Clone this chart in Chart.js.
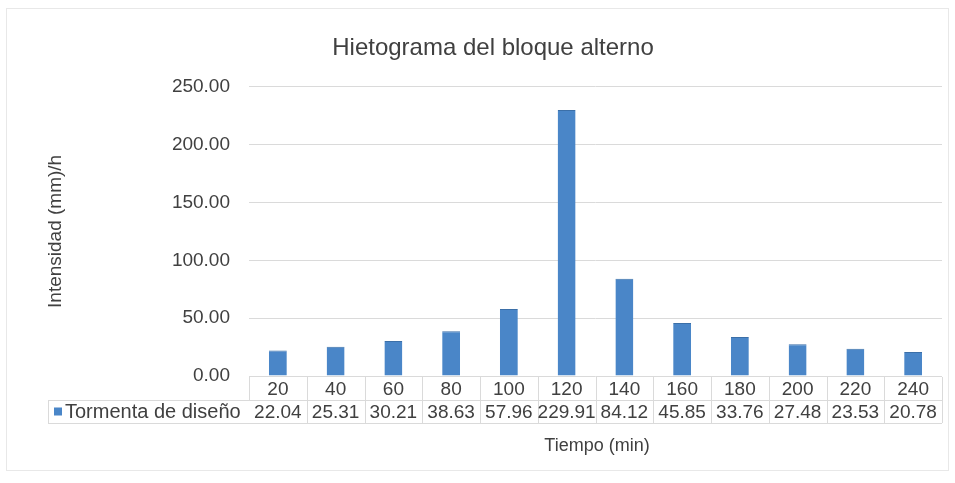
<!DOCTYPE html>
<html>
<head>
<meta charset="utf-8">
<title>Hietograma del bloque alterno</title>
<script src="https://cdn.jsdelivr.net/npm/chart.js@4"></script>
<style>
    html, body { margin: 0; padding: 0; background: #ffffff; }
    #wrap { width: 955px; height: 483px; }
</style>
</head>
<body>
<div id="wrap"><canvas id="hietograma"></canvas></div>
<script>
// Tiempo (min) e intensidades de la tormenta de diseño
const tiempos = ['20', '40', '60', '80', '100', '120', '140', '160', '180', '200', '220', '240']
const intensidades = [22.04, 25.31, 30.21, 38.63, 57.96, 229.91, 84.12, 45.85, 33.76, 27.48, 23.53, 20.78]
const serieNombre = 'Tormenta de diseño'
const yTicks = [0, 50, 100, 150, 200, 250]

const textColor = '#404040'
const barColor = '#4a86c8'
const lineColor = '#dadada'
const fontFamily = '"Liberation Sans", Arial, sans-serif'

// Excel-style data table drawn under the plot area, aligned to the x scale
const dataTablePlugin = {
    id: 'dataTable',
    afterDraw(chart) {
        const ctx = chart.ctx
        const x = chart.scales.x
        const area = chart.chartArea
        const colW = x.width / tiempos.length
        const row1Top = area.bottom + 1
        const row1Bottom = area.bottom + 24
        const row2Bottom = area.bottom + 47
        const legendLeft = 48

        ctx.save()
        ctx.strokeStyle = lineColor
        ctx.lineWidth = 1

        // horizontal rules
        ctx.beginPath()
        ctx.moveTo(legendLeft, row1Bottom + 0.5)
        ctx.lineTo(area.right, row1Bottom + 0.5)
        ctx.moveTo(legendLeft, row2Bottom + 0.5)
        ctx.lineTo(area.right, row2Bottom + 0.5)
        ctx.stroke()

        // vertical separators between categories
        ctx.beginPath()
        for (let i = 0; i <= tiempos.length; i++) {
            const px = Math.round(area.left + i * colW) + 0.5
            ctx.moveTo(px, row1Top)
            ctx.lineTo(px, i === 0 ? row1Bottom : row2Bottom)
        }
        ctx.moveTo(legendLeft + 0.5, row1Bottom)
        ctx.lineTo(legendLeft + 0.5, row2Bottom)
        ctx.stroke()

        ctx.fillStyle = textColor
        ctx.textAlign = 'center'
        ctx.textBaseline = 'middle'
        ctx.font = '19px ' + fontFamily
        tiempos.forEach((t, i) => {
            ctx.fillText(t, x.getPixelForValue(i), (row1Top + row1Bottom) / 2 + 1)
        })
        intensidades.forEach((v, i) => {
            ctx.fillText(v.toFixed(2), x.getPixelForValue(i), (row1Bottom + row2Bottom) / 2 + 1)
        })

        // legend key + series name
        const rowMid = (row1Bottom + row2Bottom) / 2
        ctx.fillStyle = barColor
        ctx.fillRect(54, rowMid - 4, 8, 8)
        ctx.fillStyle = textColor
        ctx.textAlign = 'left'
        ctx.font = '20px ' + fontFamily
        ctx.fillText(serieNombre, 65, rowMid + 1)

        // x axis title
        ctx.textAlign = 'center'
        ctx.font = '18px ' + fontFamily
        ctx.fillText('Tiempo (min)', 597, row2Bottom + 23)

        // faint outer frame of the chart
        ctx.strokeStyle = '#e8e8e8'
        ctx.strokeRect(6.5, 8.5, 942, 462)
        ctx.restore()
    }
}

document.addEventListener('DOMContentLoaded', function() {
    const ctx = document.getElementById('hietograma')
    new Chart(ctx, {
        type: 'bar',
        data: {
            labels: tiempos,
            datasets: [{
                label: serieNombre,
                data: intensidades,
                backgroundColor: barColor,
                borderColor: '#3b6fa8',
                borderWidth: { top: 1, left: 0, right: 0, bottom: 0 },
                borderSkipped: false,
                barPercentage: 0.62,
                categoryPercentage: 0.5
            }]
        },
        options: {
            responsive: true,
            maintainAspectRatio: false,
            animation: false,
            layout: { padding: { left: 44, right: 13, top: 0, bottom: 107 } },
            plugins: {
                legend: { display: false },
                tooltip: { enabled: false },
                title: {
                    display: true,
                    text: 'Hietograma del bloque alterno',
                    color: textColor,
                    font: { family: fontFamily, size: 24, weight: 'normal' },
                    padding: { top: 34, bottom: 24 }
                }
            },
            scales: {
                x: {
                    display: false,
                    grid: { display: false }
                },
                y: {
                    min: 0,
                    max: 250,
                    afterFit(scale) { scale.width = 205 },
                    afterBuildTicks(scale) { scale.ticks = yTicks.map(v => ({ value: v })) },
                    border: { display: false },
                    grid: { color: lineColor, drawTicks: false },
                    ticks: {
                        padding: 19,
                        color: textColor,
                        font: { family: fontFamily, size: 19 },
                        callback: v => Number(v).toFixed(2)
                    },
                    title: {
                        display: true,
                        text: 'Intensidad (mm)/h',
                        color: textColor,
                        font: { family: fontFamily, size: 19 },
                        padding: { top: 0, bottom: 0 }
                    }
                }
            }
        },
        plugins: [dataTablePlugin]
    })
})
</script>
</body>
</html>
